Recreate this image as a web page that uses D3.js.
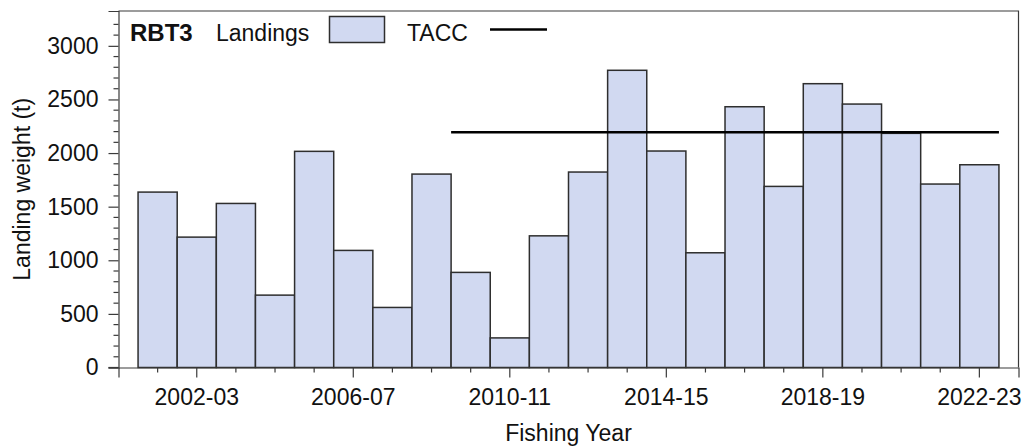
<!DOCTYPE html>
<html>
<head>
<meta charset="utf-8">
<script src="https://cdn.jsdelivr.net/npm/d3@7"></script>
<style>
  html, body { margin: 0; padding: 0; background: #fff; }
  svg { display: block; font-family: "Liberation Sans", Arial, sans-serif; }
</style>
</head>
<body>
<svg id="chart" width="1025" height="448"></svg>
<script>
// Fishing years shown on the x axis
const years = ["2001-02","2002-03","2003-04","2004-05","2005-06","2006-07","2007-08","2008-09",
  "2009-10","2010-11","2011-12","2012-13","2013-14","2014-15","2015-16","2016-17",
  "2017-18","2018-19","2019-20","2020-21","2021-22","2022-23"];
// Reported landings (t) per fishing year
const landings = [1636,1216,1530,675,2016,1092,560,1804,887,276,1228,1823,
  2772,2019,1070,2432,1689,2647,2457,2184,1711,1891];
// Total allowable commercial catch (t) and the year it begins
const taccValue = 2195;
const taccFrom = "2009-10";
// Axis ticks
const yMajorTicks = [0,500,1000,1500,2000,2500,3000];
const yMinorTicks = d3.range(0, 3201, 100);
const xLabelTicks = ["2002-03","2006-07","2010-11","2014-15","2018-19","2022-23"];
const yMax = 3325;

const svg = d3.select("#chart");
const plotL = 118.5, plotR = 1018.5, plotT = 11, plotB = 367.5;

const x = d3.scaleBand().domain(years).range([plotL, plotR]).paddingInner(0).paddingOuter(0.5);
const y = d3.scaleLinear().domain([0, yMax]).range([plotB, plotT]);

const axisColor = "#3a3a3a";
const textColor = "#111";
const fontSize = 23;

// Bars
svg.append("g").selectAll("rect")
  .data(years.map((yr, i) => ({ yr, v: landings[i] })))
  .join("rect")
  .attr("x", d => x(d.yr))
  .attr("y", d => y(d.v))
  .attr("width", x.bandwidth())
  .attr("height", d => y(0) - y(d.v))
  .attr("fill", "#d1d9f1")
  .attr("stroke", "#2e2e2e")
  .attr("stroke-width", 1.5);

// TACC line
const taccYears = years.slice(years.indexOf(taccFrom));
svg.append("line")
  .attr("x1", x(taccYears[0]))
  .attr("x2", x(taccYears[taccYears.length - 1]) + x.bandwidth())
  .attr("y1", y(taccValue)).attr("y2", y(taccValue))
  .attr("stroke", "#000").attr("stroke-width", 2.5);

// Frame (top and right)
svg.append("path")
  .attr("d", `M${plotL},${plotT}H${plotR}V${plotB}`)
  .attr("fill", "none").attr("stroke", axisColor).attr("stroke-width", 1.2);

// Y axis
const yAxis = svg.append("g").attr("transform", `translate(${plotL},0)`);
yAxis.call(d3.axisLeft(y).tickValues(yMajorTicks).tickSize(10).tickPadding(10).tickFormat(d3.format("d")));
yAxis.append("g").selectAll("line").data(yMinorTicks.filter(v => v % 500 !== 0)).join("line")
  .attr("x1", -5).attr("x2", 0).attr("y1", d => y(d)).attr("y2", d => y(d));

// X axis
const xAxis = svg.append("g").attr("transform", `translate(0,${plotB})`);
xAxis.call(d3.axisBottom(x).tickValues(xLabelTicks).tickSize(10).tickPadding(11));
xAxis.append("g").selectAll("line").data(years.filter(v => !xLabelTicks.includes(v))).join("line")
  .attr("x1", d => x(d) + x.bandwidth() / 2).attr("x2", d => x(d) + x.bandwidth() / 2)
  .attr("y1", 0).attr("y2", 5);

[yAxis, xAxis].forEach(g => {
  g.selectAll(".domain").attr("stroke", axisColor).attr("stroke-width", 1.2);
  g.selectAll("line").attr("stroke", axisColor).attr("stroke-width", 1.2);
  g.selectAll("text").attr("fill", textColor).style("font-size", fontSize + "px").style("font-family", "Liberation Sans, Arial, sans-serif");
});
// Extend the x baseline under the zero tick
svg.append("line").attr("x1", plotL - 10).attr("x2", plotL).attr("y1", plotB).attr("y2", plotB)
  .attr("stroke", axisColor).attr("stroke-width", 1.2);

// Axis titles
svg.append("text")
  .attr("x", (plotL + plotR) / 2).attr("y", 441)
  .attr("text-anchor", "middle").attr("fill", textColor)
  .style("font-size", fontSize + "px").text("Fishing Year");
svg.append("text")
  .attr("transform", `translate(30,${(plotT + plotB) / 2}) rotate(-90)`)
  .attr("text-anchor", "middle").attr("fill", textColor)
  .style("font-size", fontSize + "px").text("Landing weight (t)");

// Legend
const lg = svg.append("g");
lg.append("text").attr("x", 130).attr("y", 40.5).attr("fill", textColor)
  .style("font-size", "24px").style("font-weight", "bold").text("RBT3");
lg.append("text").attr("x", 216).attr("y", 40.5).attr("fill", textColor)
  .style("font-size", fontSize + "px").text("Landings");
lg.append("rect").attr("x", 329.5).attr("y", 16.5).attr("width", 55).attr("height", 26)
  .attr("fill", "#d1d9f1").attr("stroke", "#2e2e2e").attr("stroke-width", 1.5);
lg.append("text").attr("x", 407).attr("y", 40.5).attr("fill", textColor)
  .style("font-size", fontSize + "px").text("TACC");
lg.append("line").attr("x1", 490).attr("x2", 547).attr("y1", 29.5).attr("y2", 29.5)
  .attr("stroke", "#000").attr("stroke-width", 2.5);
</script>
</body>
</html>
